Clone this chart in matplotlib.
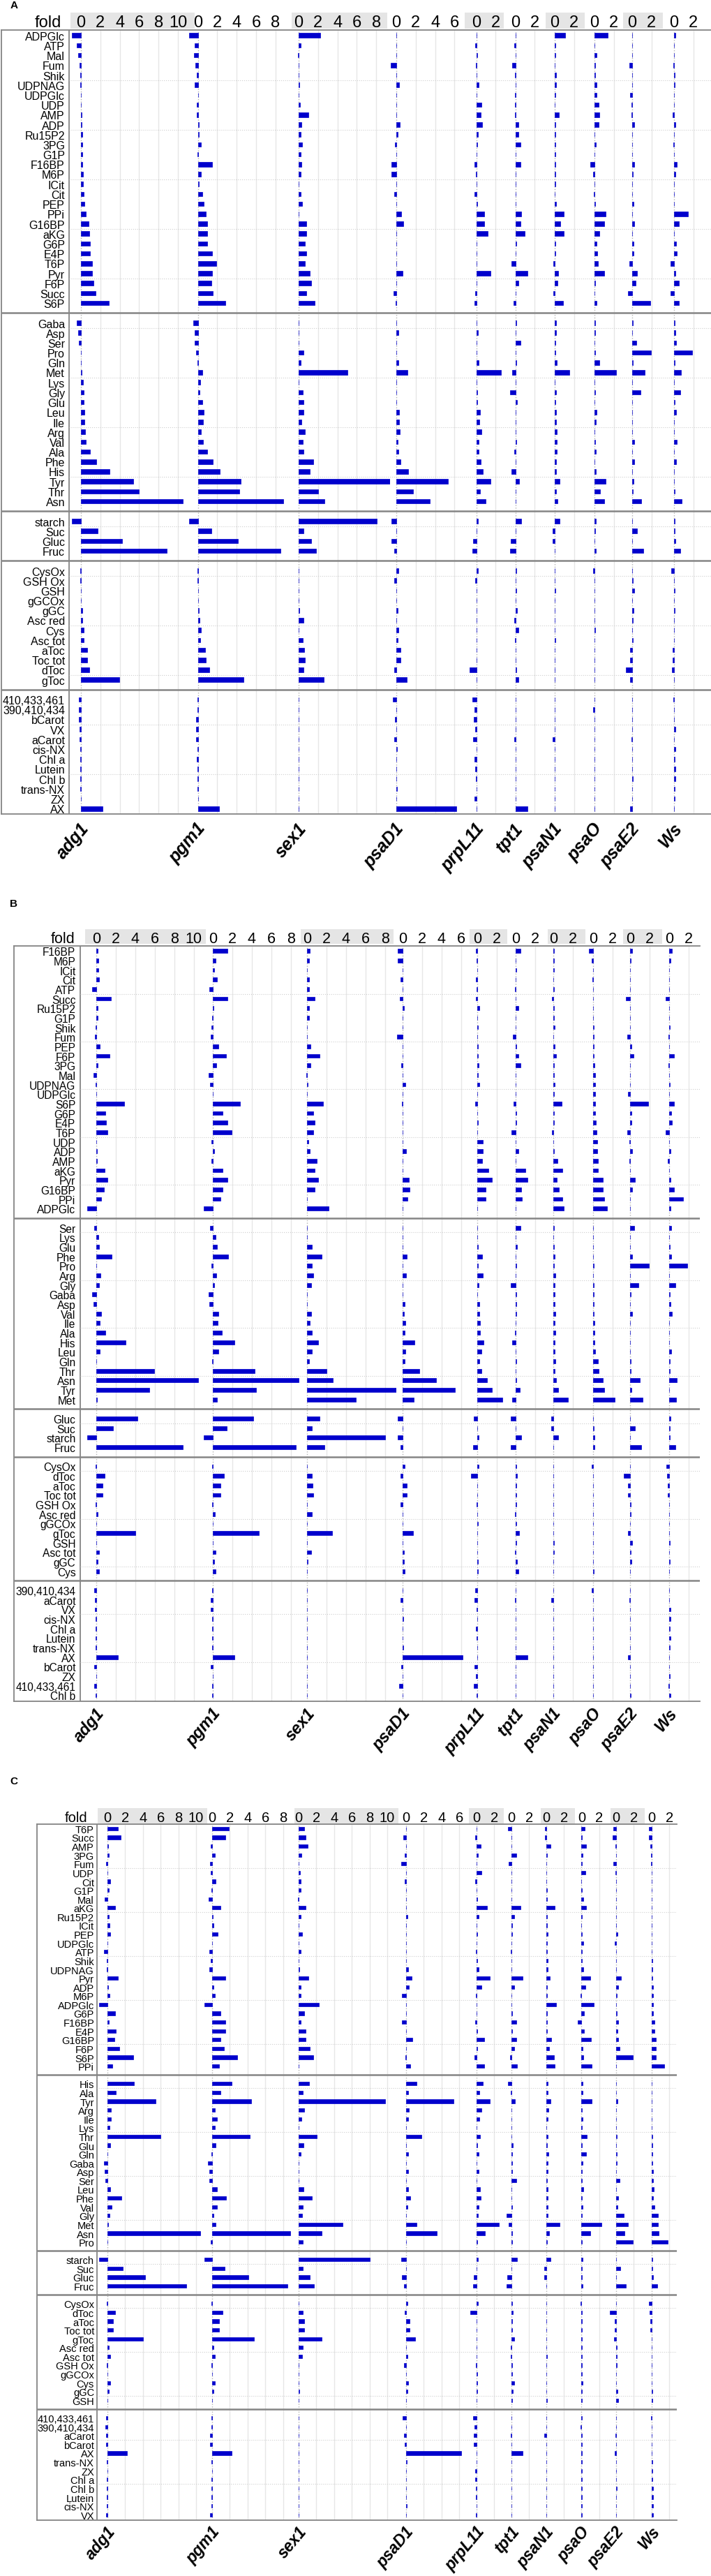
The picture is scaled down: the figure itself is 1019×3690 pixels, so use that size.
import numpy as np
import matplotlib
matplotlib.use("Agg")
import matplotlib.pyplot as plt
from matplotlib.patches import Rectangle

plt.rcParams['font.family'] = ['Liberation Sans', 'DejaVu Sans']

W, H = 1020, 3691

genotypes = ["adg1", "pgm1", "sex1", "psaD1", "prpL11", "tpt1", "psaN1", "psaO", "psaE2", "Ws"]
group_sizes = [28, 19, 4, 12, 12]

# metabolites in the order of panel A (sorted by adg1 within each group)
metabolites = [
    "ADPGlc", "ATP", "Mal", "Fum", "Shik", "UDPNAG", "UDPGlc", "UDP", "AMP", "ADP",
    "Ru15P2", "3PG", "G1P", "F16BP", "M6P", "ICit", "Cit", "PEP", "PPi", "G16BP",
    "aKG", "G6P", "E4P", "T6P", "Pyr", "F6P", "Succ", "S6P",
    "Gaba", "Asp", "Ser", "Pro", "Gln", "Met", "Lys", "Gly", "Glu", "Leu",
    "Ile", "Arg", "Val", "Ala", "Phe", "His", "Tyr", "Thr", "Asn",
    "starch", "Suc", "Gluc", "Fruc",
    "CysOx", "GSH Ox", "GSH", "gGCOx", "gGC", "Asc red", "Cys", "Asc tot", "aToc", "Toc tot", "dToc", "gToc",
    "410,433,461", "390,410,434", "bCarot", "VX", "aCarot", "cis-NX", "Chl a", "Lutein", "Chl b", "trans-NX", "ZX", "AX",
]

# fold values per genotype, same order as metabolites
adg1 = [-0.95, -0.42, -0.3, -0.13, -0.1, -0.1, -0.03, -0.03, 0.04, 0.1, 0.15, 0.17, 0.17, 0.17, 0.23, 0.23, 0.28, 0.33, 0.53, 0.8, 0.87, 0.9, 0.97, 1.15, 1.18, 1.33, 1.48, 2.88,
        -0.4, -0.28, -0.23, 0.03, 0.02, 0.1, 0.23, 0.27, 0.3, 0.33, 0.39, 0.4, 0.5, 0.92, 1.57, 2.98, 5.42, 5.98, 10.5,
        -0.93, 1.7, 4.22, 8.87,
        -0.05, -0.05, 0.02, 0.0, 0.12, 0.12, 0.3, 0.3, 0.62, 0.62, 0.83, 3.98,
        -0.18, -0.22, -0.18, -0.15, -0.17, -0.1, -0.1, -0.1, -0.05, -0.05, 0.03, 2.23]
pgm1 = [-0.9, -0.33, -0.4, -0.25, -0.13, -0.32, 0.02, -0.12, -0.15, 0.12, 0.08, 0.35, -0.07, 1.48, 0.32, 0.12, 0.43, 0.6, 0.82, 0.97, 0.98, 0.98, 1.48, 1.9, 1.48, 1.37, 1.52, 2.8,
        -0.45, -0.35, -0.3, -0.17, -0.05, 0.43, 0.28, 0.15, 0.43, 0.57, 0.52, 0.35, 0.55, 0.95, 1.57, 2.23, 4.42, 4.27, 8.8,
        -0.9, 1.43, 4.13, 8.52,
        -0.05, -0.05, 0.01, 0.0, 0.13, 0.18, 0.32, 0.28, 0.78, 0.8, 1.18, 4.72,
        -0.05, -0.05, -0.2, -0.2, -0.22, -0.05, -0.1, -0.05, -0.05, -0.05, 0.02, 2.2]
sex1 = [2.25, 0.22, -0.07, 0.02, 0.02, 0.07, 0.02, 0.16, 1.0, 0.27, 0.23, 0.35, 0.2, 0.27, 0.24, 0.03, 0.22, 0.38, 0.02, 0.8, 0.78, 0.65, 0.76, 0.66, 1.12, 1.27, 0.77, 1.63,
        -0.03, 0.02, 0.02, 0.47, 0.23, 5.0, 0.02, 0.42, 0.53, 0.52, 0.3, 0.63, 0.45, 0.5, 1.5, 1.17, 9.8, 2.03, 2.63,
        8.05, 0.47, 1.28, 1.77,
        0.02, 0.0, 0.01, 0.02, 0.1, 0.47, 0.02, 0.4, 0.6, 0.62, 0.47, 2.58,
        0.02, 0.02, 0.02, 0.02, 0.02, 0.02, 0.02, 0.02, 0.02, 0.02, 0.02, -0.02]
psaD1 = [0.02, 0.02, 0.02, -0.55, 0.02, 0.27, 0.02, 0.02, 0.02, 0.33, 0.12, -0.13, -0.02, -0.5, -0.48, 0.02, -0.18, -0.02, 0.5, 0.72, 0.02, 0.02, 0.02, -0.03, 0.65, 0.02, -0.32, -0.05,
         0.02, 0.2, -0.03, 0.02, 0.23, 1.15, 0.02, 0.02, 0.02, 0.27, 0.27, 0.33, 0.15, 0.23, 0.45, 1.2, 5.35, 1.75, 3.45,
         -0.53, 0.02, -0.48, -0.23,
         0.18, -0.22, 0.02, 0.02, 0.17, 0.02, 0.22, 0.17, 0.4, 0.4, -0.18, 1.05,
         -0.37, 0.02, -0.13, 0.03, -0.22, 0.05, -0.03, 0.02, 0.02, 0.1, 0.02, 6.2]
prpL11 = [0.03, -0.08, 0.1, -0.03, 0.07, 0.23, 0.03, 0.57, 0.48, 0.58, 0.2, 0.13, 0.03, -0.17, -0.05, 0.02, -0.17, 0.08, 0.83, 0.85, 1.18, 0.02, 0.04, 0.02, 1.48, 0.05, -0.12, -0.2,
          0.02, 0.2, 0.02, 0.07, 0.25, 2.55, 0.02, 0.13, 0.09, 0.43, 0.3, 0.57, 0.23, 0.28, 0.47, 0.67, 1.5, 0.42, 0.97,
          0.17, 0.02, -0.33, -0.42,
          0.17, -0.1, 0.02, 0.05, 0.05, 0.02, 0.04, 0.02, 0.02, 0.02, -0.67, 0.02,
          -0.37, -0.2, -0.28, -0.1, -0.32, 0.02, -0.15, -0.1, -0.05, 0.02, -0.17, 0.03]
tpt1 = [0.02, -0.08, 0.02, -0.32, -0.02, 0.02, -0.02, -0.02, -0.02, 0.32, 0.31, 0.53, 0.02, 0.53, 0.02, 0.06, 0.02, 0.04, 0.63, 0.55, 1.0, 0.07, 0.05, -0.42, 1.25, 0.32, 0.03, -0.18,
        0.08, 0.05, 0.52, 0.05, 0.07, -0.35, 0.02, -0.53, 0.15, 0.02, 0.03, 0.02, 0.1, -0.1, 0.02, -0.37, 0.4, 0.02, 0.06,
        0.6, 0.02, -0.47, -0.53,
        0.1, 0.05, 0.07, 0.05, 0.17, -0.1, 0.3, -0.05, 0.05, 0.05, 0.12, 0.33,
        0.02, 0.02, 0.02, 0.02, -0.1, 0.02, 0.02, 0.02, 0.02, 0.02, 0.02, 1.25]
psaN1 = [1.1, 0.07, 0.08, 0.02, 0.14, 0.12, 0.05, 0.03, 0.45, 0.1, 0.1, 0.1, 0.1, 0.07, 0.07, 0.05, 0.03, 0.12, 0.92, 0.58, 0.91, 0.07, 0.07, -0.12, 0.38, 0.28, -0.12, 0.83,
         0.17, 0.13, 0.07, 0.07, 0.23, 1.53, 0.02, 0.15, 0.04, 0.15, 0.17, 0.2, 0.18, 0.18, 0.17, 0.17, 0.5, 0.15, 0.3,
         0.47, -0.2, -0.2, 0.02,
         0.02, 0.02, 0.04, 0.02, 0.02, 0.02, 0.02, 0.1, 0.02, 0.02, -0.03, 0.02,
         0.02, 0.02, 0.02, 0.02, -0.22, 0.02, 0.02, 0.02, 0.02, 0.02, 0.02, 0.02]
psaO = [1.4, 0.02, 0.18, 0.07, 0.07, 0.2, 0.23, 0.43, 0.5, 0.43, 0.02, 0.13, 0.02, -0.43, -0.11, -0.03, -0.06, 0.07, 1.12, 1.03, 0.52, 0.25, 0.31, 0.33, 0.98, 0.08, 0.02, 0.2,
        0.08, 0.05, 0.02, 0.04, 0.5, 2.23, 0.02, 0.05, 0.02, 0.22, 0.13, 0.03, 0.08, 0.15, 0.03, 0.15, 1.13, 0.57, 1.0,
        0.15, 0.07, 0.02, 0.12,
        -0.15, 0.02, 0.02, 0.02, 0.02, 0.02, 0.1, 0.02, 0.02, 0.02, 0.02, 0.02,
        0.02, -0.15, 0.02, 0.02, 0.02, 0.02, 0.02, 0.02, 0.02, 0.02, 0.02, 0.02]
psaE2 = [0.02, 0.02, 0.02, -0.28, 0.02, 0.02, -0.18, -0.1, -0.1, 0.2, 0.02, 0.02, 0.02, 0.22, 0.06, 0.02, 0.02, 0.17, 0.02, 0.23, 0.02, 0.11, 0.13, -0.32, 0.52, 0.36, -0.4, 1.87,
         0.07, 0.02, 0.42, 1.92, 0.07, 1.32, 0.02, 0.85, 0.02, 0.03, 0.03, 0.03, 0.18, 0.03, 0.22, 0.03, 0.13, 0.07, 0.97,
         0.02, 0.5, 0.02, 1.12,
         0.02, 0.07, 0.2, 0.02, 0.13, 0.08, 0.02, 0.04, -0.18, -0.18, -0.68, -0.23,
         0.02, 0.03, -0.03, 0.02, -0.07, 0.02, 0.02, 0.02, 0.04, 0.02, 0.02, -0.18]
Ws = [0.17, 0.02, 0.02, -0.05, 0.08, 0.09, 0.02, -0.02, -0.17, 0.12, 0.02, -0.04, 0.02, 0.28, 0.17, 0.02, 0.02, 0.02, 1.42, 0.47, 0.02, 0.19, 0.3, -0.35, 0.11, 0.48, -0.33, 0.47,
      0.1, 0.13, 0.18, 1.85, 0.1, 0.72, 0.02, 0.67, 0.08, 0.22, 0.02, 0.02, 0.28, 0.02, 0.18, 0.02, 0.02, 0.1, 0.8,
      0.07, 0.07, 0.15, 0.62,
      -0.32, 0.03, 0.1, 0.02, 0.1, 0.02, 0.02, 0.02, -0.13, -0.13, -0.22, 0.02,
      -0.07, -0.02, 0.02, 0.15, -0.02, 0.15, 0.07, 0.15, 0.13, 0.05, 0.07, 0.02]

# row orders of panels B and C
order_b = [
    "F16BP", "M6P", "ICit", "Cit", "ATP", "Succ", "Ru15P2", "G1P", "Shik", "Fum",
    "PEP", "F6P", "3PG", "Mal", "UDPNAG", "UDPGlc", "S6P", "G6P", "E4P", "T6P",
    "UDP", "ADP", "AMP", "aKG", "Pyr", "G16BP", "PPi", "ADPGlc",
    "Ser", "Lys", "Glu", "Phe", "Pro", "Arg", "Gly", "Gaba", "Asp", "Val",
    "Ile", "Ala", "His", "Leu", "Gln", "Thr", "Asn", "Tyr", "Met",
    "Gluc", "Suc", "starch", "Fruc",
    "CysOx", "dToc", "aToc", "Toc tot", "GSH Ox", "Asc red", "gGCOx", "gToc", "GSH", "Asc tot", "gGC", "Cys",
    "390,410,434", "aCarot", "VX", "cis-NX", "Chl a", "Lutein", "trans-NX", "AX", "bCarot", "ZX", "410,433,461", "Chl b",
]
order_c = [
    "T6P", "Succ", "AMP", "3PG", "Fum", "UDP", "Cit", "G1P", "Mal", "aKG",
    "Ru15P2", "ICit", "PEP", "UDPGlc", "ATP", "Shik", "UDPNAG", "Pyr", "ADP", "M6P",
    "ADPGlc", "G6P", "F16BP", "E4P", "G16BP", "F6P", "S6P", "PPi",
    "His", "Ala", "Tyr", "Arg", "Ile", "Lys", "Thr", "Glu", "Gln", "Gaba",
    "Asp", "Ser", "Leu", "Phe", "Val", "Gly", "Met", "Asn", "Pro",
    "starch", "Suc", "Gluc", "Fruc",
    "CysOx", "dToc", "aToc", "Toc tot", "gToc", "Asc red", "Asc tot", "GSH Ox", "gGCOx", "Cys", "gGC", "GSH",
    "410,433,461", "390,410,434", "aCarot", "bCarot", "AX", "trans-NX", "ZX", "Chl a", "Chl b", "Lutein", "cis-NX", "VX",
]

table = dict(zip(genotypes, [adg1, pgm1, sex1, psaD1, prpL11, tpt1, psaN1, psaO, psaE2, Ws]))

# layout of the three panels, in pixels of the 1020 x 3691 picture
layouts = [
    dict(letter="A", letter_xy=(20, 8), rows=metabolites,
         band_y=(19, 42), fold_x=88, frame_y=(44, 1167), frame_x=(2, 99, 1020),
         row0=51.7, step=14.2, scale=13.9,
         bands=[101, 279, 418, 555, 666, 722, 782, 838, 893, 950, 1018],
         zeros=[116, 283.6, 428, 568, 682.5, 738.6, 795, 852, 906, 966],
         tmax=[10, 8, 8, 6, 2, 2, 2, 2, 2, 2], label_x=93,
         row_fs=11.5, tick_fs=17, col_fs=18, col_gap=8, bar_h=0.46),
    dict(letter="B", letter_xy=(20, 1295), rows=order_b,
         band_y=(1332, 1353), fold_x=108, frame_y=(1356, 2438), frame_x=(20, 115, 1003),
         row0=1363.2, step=13.67, scale=13.95,
         bands=[122, 295, 431, 564, 673, 727, 785, 839, 893, 949, 1003],
         zeros=[138, 305, 440, 577, 684, 739, 793, 850, 903, 959],
         tmax=[10, 8, 8, 6, 2, 2, 2, 2, 2, 2], label_x=108.5,
         row_fs=11.2, tick_fs=15.5, col_fs=17, col_gap=5, bar_h=0.42),
    dict(letter="C", letter_xy=(20, 2552), rows=order_c,
         band_y=(2591, 2613), fold_x=125, frame_y=(2614, 3610.5), frame_x=(52.6, 139.5, 970),
         row0=2620.4, step=12.6, scale=12.7,
         bands=[139.5, 297, 422, 571, 672, 722, 775, 824, 875, 924, 970],
         zeros=[154, 304, 428, 582, 683, 733, 783, 833.5, 883, 934],
         tmax=[10, 8, 10, 6, 2, 2, 2, 2, 2, 2], label_x=135,
         row_fs=10.5, tick_fs=14.5, col_fs=16.5, col_gap=5, bar_h=0.42),
]

BLUE = "#0000cc"
LINE = "#858585"


def px_box(x0, y0, x1, y1):
    return [x0 / W, 1 - y1 / H, (x1 - x0) / W, (y1 - y0) / H]


def draw_panel(fig, lay):
    top, bot = lay["frame_y"]
    left, sep, right = lay["frame_x"]
    y0, step, s = lay["row0"], lay["step"], lay["scale"]
    ylim = ((bot - y0) / step, (top - y0) / step)
    pos = np.arange(len(metabolites)) + np.repeat(np.arange(len(group_sizes)), group_sizes)
    idx = [metabolites.index(m) for m in lay["rows"]]

    # header bands behind the fold ticks
    b0, b1 = lay["band_y"]
    for c in range(0, 10, 2):
        x0, x1 = lay["bands"][c], lay["bands"][c + 1]
        fig.add_artist(Rectangle((x0 / W, 1 - b1 / H), (x1 - x0) / W, (b1 - b0) / H,
                                 transform=fig.transFigure, color="#e5e5e5", lw=0, zorder=-1))
    fig.text(lay["fold_x"] / W, 1 - top / H, "fold", ha="right", va="bottom", fontsize=lay["tick_fs"])
    fig.text(lay["letter_xy"][0] / W, 1 - lay["letter_xy"][1] / H, lay["letter"],
             ha="center", va="center", fontsize=11, fontweight="bold")

    for c, g in enumerate(genotypes):
        z = lay["zeros"][c]
        ax0 = z - 1.15 * s
        ax1 = lay["bands"][c + 1] + 4
        ax = fig.add_axes(px_box(ax0, top, ax1, bot))
        ax.set_xlim((ax0 - z) / s, (ax1 - z) / s)
        ax.set_ylim(*ylim)
        ax.patch.set_alpha(0)
        for sp in ax.spines.values():
            sp.set_visible(False)
        ticks = np.arange(0, lay["tmax"][c] + 1, 2)
        ax.set_xticks(ticks)
        ax.set_xticklabels([str(t) for t in ticks])
        ax.tick_params(axis="x", top=True, labeltop=True, bottom=False, labelbottom=False,
                       length=0, pad=0, labelsize=lay["tick_fs"])
        ax.grid(axis="x", color="#e6e6e6", lw=1.0)
        gl = ax.get_xgridlines()
        gl[0].set_linestyle(":")
        gl[0].set_color("#b5b5b5")
        ax.set_axisbelow(True)
        vals = np.array(table[g])[idx]
        ax.barh(pos, vals, height=lay["bar_h"], color=BLUE, edgecolor=BLUE, linewidth=0.5, zorder=2)
        if c == 0:
            ax.set_yticks(pos)
            ax.set_yticklabels(lay["rows"], fontsize=lay["row_fs"])
            ax.tick_params(axis="y", length=0, pad=(ax0 - lay["label_x"]) * 0.72)
        else:
            ax.set_yticks([])
        fig.text((z + 16) / W, 1 - (bot + lay["col_gap"]) / H, g, rotation=50,
                 ha="right", va="top", fontsize=lay["col_fs"], fontweight="bold", fontstyle="italic")

    # frame, group separators and dotted row guides on top
    fr = fig.add_axes(px_box(left, top, right, bot))
    fr.set_zorder(5)
    fr.patch.set_alpha(0)
    fr.set_xlim(left, right)
    fr.set_ylim(*ylim)
    fr.set_xticks([])
    fr.set_yticks([])
    fr.spines["right"].set_visible(False)
    for k in ["top", "bottom", "left"]:
        fr.spines[k].set_color(LINE)
        fr.spines[k].set_linewidth(1.3)
    seps = np.cumsum(group_sizes)[:-1] + np.arange(len(group_sizes) - 1)
    fr.hlines(seps, left, right, color=LINE, lw=1.8)
    fr.axvline(sep, color=LINE, lw=1.3)
    fr.hlines(np.arange(4.5, pos[-1], 5), sep, right, color="#cfcfcf", lw=0.8, linestyles=":")


fig = plt.figure(figsize=(W / 100, H / 100), dpi=100)
for lay in layouts:
    draw_panel(fig, lay)
fig.savefig("out.png", dpi=100)
